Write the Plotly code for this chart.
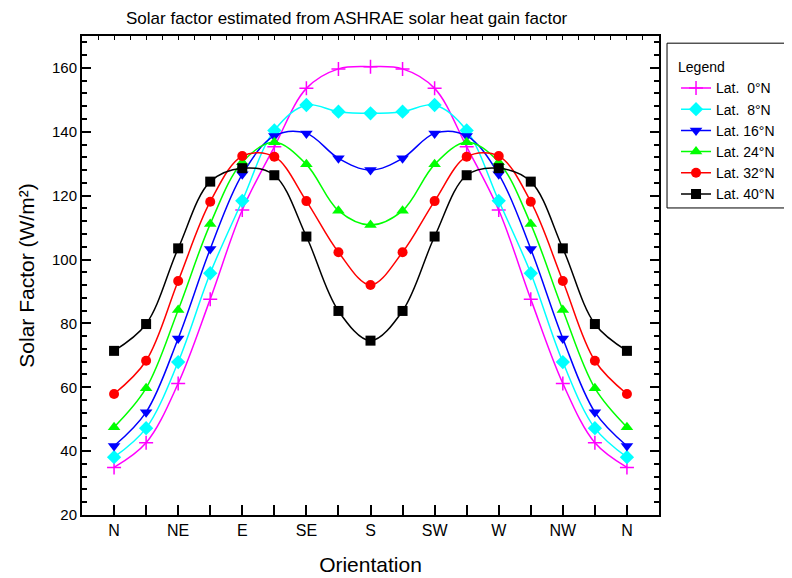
import plotly.graph_objects as go

orientations = ["N", "NNE", "NE", "ENE", "E", "ESE", "SE", "SSE", "S",
                "SSW", "SW", "WSW", "W", "WNW", "NW", "NNW", "N"]
tick_labels = ["N", "NE", "E", "SE", "S", "SW", "W", "NW", "N"]

lat0 = [34.9, 42.6, 61.2, 87.6, 115.5, 135.3, 153.6, 159.7, 160.4,
        159.7, 153.6, 135.3, 115.5, 87.6, 61.2, 42.6, 34.9]
lat8 = [38.1, 47.2, 67.9, 95.7, 118.4, 140.4, 148.4, 146.3, 145.8,
        146.3, 148.4, 140.4, 118.4, 95.7, 67.9, 47.2, 38.1]
lat16 = [41.6, 52.2, 75.3, 103.3, 126.7, 138.7, 139.5, 131.7, 128.0,
         131.7, 139.5, 138.7, 126.7, 103.3, 75.3, 52.2, 41.6]
lat24 = [47.5, 59.7, 84.2, 111.1, 130.5, 136.7, 129.8, 115.3, 110.8,
         115.3, 129.8, 136.7, 130.5, 111.1, 84.2, 59.7, 47.5]
lat32 = [57.9, 68.3, 93.3, 118.1, 132.4, 132.2, 118.3, 102.3, 92.0,
         102.3, 118.3, 132.2, 132.4, 118.1, 93.3, 68.3, 57.9]
lat40 = [71.4, 79.8, 103.5, 124.4, 128.6, 126.4, 107.2, 83.9, 74.6,
         83.9, 107.2, 126.4, 128.6, 124.4, 103.5, 79.8, 71.4]

series = [
    ("Lat.  0°N", lat0, "#FF00FF", "cross-thin", 10),
    ("Lat.  8°N", lat8, "#00FFFF", "diamond", 11),
    ("Lat. 16°N", lat16, "#0000FF", "triangle-down", 11),
    ("Lat. 24°N", lat24, "#00FF00", "triangle-up", 11),
    ("Lat. 32°N", lat32, "#FF0000", "circle", 10),
    ("Lat. 40°N", lat40, "#000000", "square", 10),
]

xpos = list(range(len(orientations)))
font = "Liberation Sans, Arial, sans-serif"

fig = go.Figure()
for name, vals, color, sym, size in series:
    fig.add_trace(go.Scatter(
        x=xpos, y=vals, name=name, mode="lines+markers",
        line=dict(color=color, width=1.5, shape="spline", smoothing=1),
        marker=dict(symbol=sym, size=size, color=color,
                    line=dict(color=color, width=1.5 if sym == "cross-thin" else 0)),
        customdata=orientations,
        hovertemplate="%{customdata}: %{y}<extra>" + name + "</extra>",
    ))

# helper trace (no data) so the top axis is drawn
fig.add_trace(go.Scatter(x=[], y=[], xaxis="x2", showlegend=False, hoverinfo="skip"))

fig.update_layout(
    width=784, height=570,
    margin=dict(l=74, r=133, t=28, b=63),
    paper_bgcolor="white", plot_bgcolor="white",
    font=dict(family=font, color="black"),
    showlegend=True,
    legend=dict(
        x=1.0295, y=0.962, xanchor="left", yanchor="top",
        borderwidth=0, bgcolor="rgba(0,0,0,0)",
        font=dict(size=14, family=font),
        title=dict(text="Legend", font=dict(size=14, family=font)),
        tracegroupgap=0, itemwidth=30,
    ),
    shapes=[dict(
        type="rect", xref="paper", yref="paper",
        x0=1.0139, x1=1.227, y0=0.641, y1=0.985,
        line=dict(color="black", width=1), fillcolor="rgba(0,0,0,0)",
    )],
    annotations=[dict(
        text="Solar factor estimated from ASHRAE solar heat gain factor",
        xref="paper", yref="paper", x=0.46, y=1.0, yshift=18,
        xanchor="center", yanchor="middle", showarrow=False,
        font=dict(size=17, family=font),
    )],
    xaxis=dict(
        range=[-1, 17], automargin=False,
        tickmode="array", tickvals=xpos[::2], ticktext=tick_labels,
        ticks="inside", ticklen=10, tickwidth=1.5, tickcolor="black",
        minor=dict(tickmode="array", tickvals=xpos[1::2], ticks="inside",
                   ticklen=10, tickwidth=1.5, tickcolor="black"),
        showline=True, linewidth=2, linecolor="black", mirror=True,
        showgrid=False, zeroline=False,
        tickfont=dict(size=16, family=font),
        title=dict(text="Orientation", font=dict(size=21, family=font), standoff=19),
    ),
    xaxis2=dict(
        overlaying="x", side="top", range=[-1, 17], automargin=False,
        tick0=-1, dtick=0.5, ticks="inside", ticklen=4, tickwidth=1,
        tickcolor="black", showticklabels=False, showgrid=False,
        zeroline=False, showline=False,
    ),
    yaxis=dict(
        range=[20, 170], automargin=False,
        tick0=20, dtick=20,
        ticks="inside", ticklen=9, tickwidth=1.5, tickcolor="black",
        minor=dict(dtick=4, tick0=0, ticks="inside", ticklen=5,
                   tickwidth=1.5, tickcolor="black"),
        showline=True, linewidth=2, linecolor="black", mirror="ticks",
        showgrid=False, zeroline=False,
        tickfont=dict(size=15, family=font),
        title=dict(text="Solar Factor (W/m²)", font=dict(size=21, family=font), standoff=12),
    ),
)

fig.write_html("out.html")
